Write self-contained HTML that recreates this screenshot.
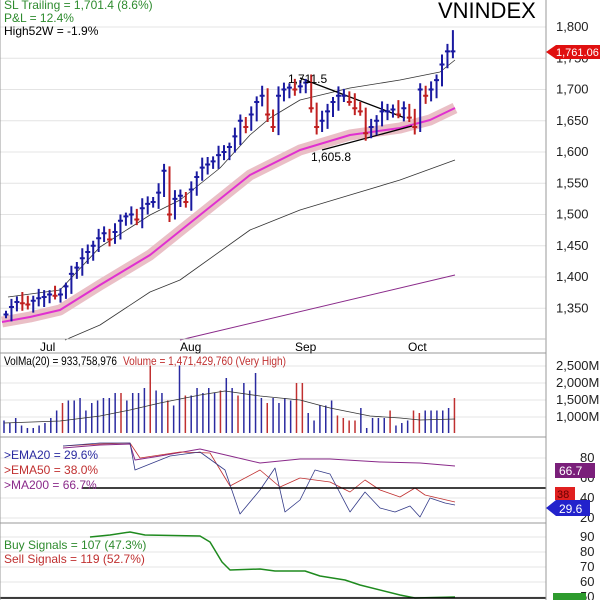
<!DOCTYPE html>
<html><head><meta charset="utf-8">
<style>
html,body{margin:0;padding:0;background:#fff;}
svg{display:block;font-family:"Liberation Sans",Arial,sans-serif;}
</style></head>
<body>
<svg id="s" width="600" height="600" viewBox="0 0 600 600" xmlns="http://www.w3.org/2000/svg">
<rect width="600" height="600" fill="#fff"/>
<g id="grid" stroke="#e4e4e4" stroke-width="1"></g>
<g id="main"></g>
<line x1="546" y1="0" x2="546" y2="600" stroke="#999"/>
<line x1="0" y1="339" x2="546" y2="339" stroke="#bbb"/>
<line x1="0" y1="353" x2="546" y2="353" stroke="#999"/>
<line x1="0" y1="437" x2="546" y2="437" stroke="#999"/>
<line x1="0" y1="523" x2="546" y2="523" stroke="#999"/>
<line x1="0" y1="0" x2="0" y2="600" stroke="#999"/>
<g font-size="12">
<text x="4" y="9" fill="#2e8b2e">SL Trailing = 1,701.4 (8.6%)</text>
<text x="4" y="22" fill="#2e8b2e">P&amp;L = 12.4%</text>
<text x="4" y="35" fill="#000">High52W = -1.9%</text>
<text x="438" y="18" font-size="22" fill="#000">VNINDEX</text>
<text x="288" y="83" fill="#000">1,711.5</text>
<text x="311" y="161" fill="#000">1,605.8</text>
<text x="40" y="351">Jul</text><text x="180" y="351">Aug</text>
<text x="295" y="351">Sep</text><text x="408" y="351">Oct</text>
<text x="4" y="365" textLength="113" lengthAdjust="spacingAndGlyphs">VolMa(20) = 933,758,976</text>
<text x="123" y="365" fill="#c03030" textLength="163" lengthAdjust="spacingAndGlyphs">Volume = 1,471,429,760 (Very High)</text>
<text x="4" y="459" fill="#2a2aa0">&gt;EMA20 = 29.6%</text>
<text x="4" y="474" fill="#c03030">&gt;EMA50 = 38.0%</text>
<text x="4" y="489" fill="#8a2a8a">&gt;MA200 = 66.7%</text>
<text x="4" y="549" fill="#2e8b2e">Buy Signals = 107 (47.3%)</text>
<text x="4" y="563" fill="#c03030">Sell Signals = 119 (52.7%)</text>
</g>
<g font-size="13" fill="#222" id="axis"></g>
<polygon points="546,52 556,45 600,45 600,59 556,59" fill="#e01010"/>
<text x="556" y="56" font-size="11" fill="#fff">1,761.06</text>
<rect x="555" y="463" width="40" height="15" fill="#7a1f7a"/><text x="559" y="475" font-size="12" fill="#fff">66.7</text>
<rect x="555" y="487" width="20" height="13" fill="#e02020"/><text x="557" y="498" font-size="11" fill="#600">38</text>
<polygon points="546,508 556,500 590,500 590,516 556,516" fill="#2222cc"/><text x="559" y="513" font-size="12" fill="#fff">29.6</text>
<rect x="553" y="593" width="33" height="10" fill="#2e9b2e"/>
</svg>
<script>
const NS="http://www.w3.org/2000/svg";
const g=document.getElementById('main'),gr=document.getElementById('grid'),ax=document.getElementById('axis');
function el(t,a,p){const e=document.createElementNS(NS,t);for(const k in a)e.setAttribute(k,a[k]);(p||g).appendChild(e);return e;}
const py=p=>27+(1800-p)*0.625;
[1800,1750,1700,1650,1600,1550,1500,1450,1400,1350].forEach(p=>{const y=py(p);el('line',{x1:0,x2:546,y1:y,y2:y},gr);el('text',{x:556,y:y+4},ax).textContent=p.toLocaleString('en-US');});
[[2500,366],[2000,383],[1500,400],[1000,417]].forEach(([v,y])=>{el('line',{x1:0,x2:546,y1:y,y2:y},gr);el('text',{x:556,y:y+4},ax).textContent=v.toLocaleString('en-US')+'M';});
[[80,458],[60,478],[40,498],[20,518]].forEach(([v,y])=>{el('line',{x1:0,x2:546,y1:y,y2:y},gr);el('text',{x:580,y:y+4},ax).textContent=v;});
[[90,537],[80,552],[70,567],[60,582],[50,597]].forEach(([v,y])=>{el('line',{x1:0,x2:546,y1:y,y2:y},gr);el('text',{x:580,y:y+4},ax).textContent=v;});
const C=[1340,1352,1360,1358,1356,1362,1366,1368,1372,1370,1372,1385,1405,1415,1430,1440,1450,1462,1470,1460,1472,1490,1497,1500,1492,1510,1517,1520,1535,1570,1500,1525,1530,1520,1540,1560,1575,1580,1585,1595,1600,1608,1625,1650,1640,1660,1680,1690,1660,1640,1690,1700,1703,1700,1705,1711,1670,1640,1650,1665,1680,1690,1690,1680,1670,1665,1630,1640,1650,1665,1665,1668,1660,1670,1655,1640,1700,1690,1700,1715,1740,1761,1761];
const X=i=>6+i*5.45;
function line(pts,st,w,op){el('polyline',{points:pts.map(p=>p.join(',')).join(' '),fill:'none',stroke:st,'stroke-width':w||1,'stroke-opacity':op||1,'stroke-linejoin':'round'});}
const ma50=[[2,322],[30,317],[60,310],[100,285],[150,255],[200,215],[250,175],[300,150],[350,135],[400,128],[430,120],[455,108]];
line(ma50,'#e8b8c0',11,0.9);line(ma50,'#e030d0',2);
line([[8,297],[60,290],[100,247],[150,215],[180,200],[220,168],[250,135],[270,118],[300,100],[350,88],[400,80],[440,72],[455,60]],'#333',0.8);
line([[65,340],[100,325],[150,292],[180,280],[250,230],[300,210],[350,195],[400,180],[455,160]],'#333',0.8);
line([[180,340],[455,275]],'#8a2a8a',1);
line([[300,78],[405,118]],'#000',1.3);line([[322,150],[412,126]],'#000',1.3);
C.forEach((c,i)=>{const p=i?C[i-1]:c;const up=c>=p;const col=up?'#1a1aa0':'#c02020';
 const h=Math.max(c,p)+6+((i*7)%11),l=Math.min(c,p)-6-((i*5)%9);
 const x=X(i);el('line',{x1:x,x2:x,y1:py(i==82?1795:h),y2:py(l),stroke:col,'stroke-width':2});
 el('line',{x1:x-2.5,x2:x+2.5,y1:py(c),y2:py(c),stroke:col,'stroke-width':2});});
const V=[5,4,6,3,2,2,3,4,6,9,12,13,13,14,9,12,13,14,14,16,16,13,16,16,18,27,17,16,13,11,27,15,15,18,16,18,16,17,22,18,15,20,17,24,14,12,14,12,14,13,20,20,8,5,11,11,13,7,6,5,5,10,2,6,6,6,9,3,4,5,9,8,9,9,9,9,10,14];
V.forEach((v,i)=>{const x=4+i*5.85;const h=v*2.5;const red=[10,20,25,28,31,37,40,45,50,51,57,58,59,60,66,70,71].includes(i)||i==77;
 el('line',{x1:x,x2:x,y1:433,y2:433-h,stroke:red?'#c03030':'#2a2aa0','stroke-width':1.5});});
line([[4,423],[60,421],[100,416],[130,410],[160,403],[200,395],[225,391],[260,396],[300,400],[330,408],[370,416],[400,418],[420,420],[455,419]],'#333',0.8);
line([[63,448],[100,445],[130,444],[135,460],[160,456],[200,449],[230,456],[260,463],[300,459],[330,459],[380,462],[420,463],[455,466]],'#8a2a8a',1);
line([[63,446],[100,444],[130,443],[140,458],[180,452],[210,453],[230,486],[260,470],[280,487],[300,478],[330,482],[350,492],[365,480],[380,490],[400,497],[415,488],[425,495],[455,502]],'#c03030',0.8);
line([[63,446],[100,443],[130,443],[135,470],[170,456],[200,452],[225,470],[240,514],[260,490],[275,468],[285,512],[300,500],[315,470],[330,474],[350,512],[365,492],[380,508],[395,512],[410,506],[420,517],[430,498],[445,503],[455,505]],'#333a88',0.8);
line([[82,488],[546,488]],'#000',1.5);
line([[90,537],[110,535],[130,532],[145,535],[200,536],[210,542],[222,562],[230,570],[260,569],[275,571],[305,571],[320,576],[345,580],[360,585],[400,595],[415,598],[455,597]],'#1e8a1e',1.5);
line([[0,598],[546,598]],'#000',1.5);
</script>
</body></html>
